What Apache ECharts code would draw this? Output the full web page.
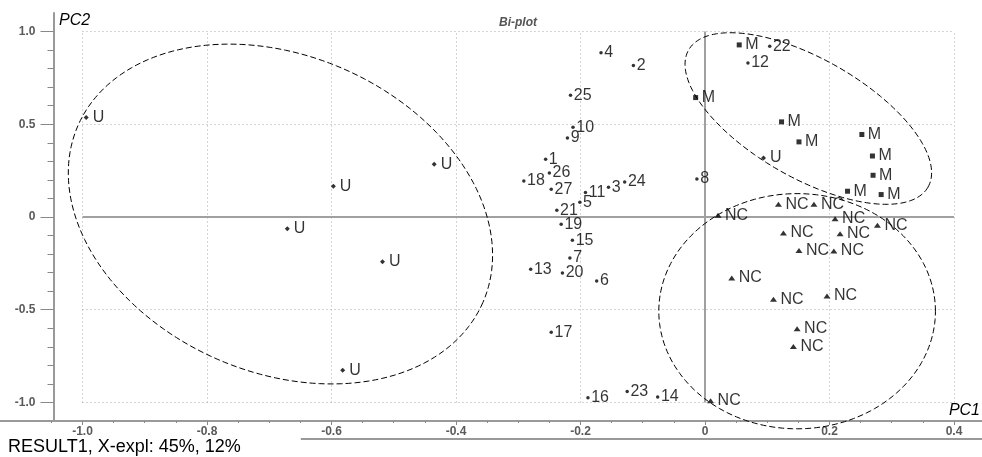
<!DOCTYPE html>
<html>
<head>
<meta charset="utf-8">
<script src="https://cdn.jsdelivr.net/npm/echarts@6/dist/echarts.min.js"></script>
<style>
html, body { margin: 0; padding: 0; background: #fff; }
#biplot { width: 982px; height: 457px; }
</style>
</head>
<body>
<div id="biplot"></div>
<script>
// scores, grouped by class (PC1, PC2)
const uX = [-0.994, -0.597, -0.435, -0.671, -0.518, -0.582, 0.094];
const uY = [0.536, 0.166, 0.284, -0.063, -0.241, -0.826, 0.318];
const mX = [0.055, -0.015, 0.123, 0.151, 0.252, 0.269, 0.270, 0.229, 0.283];
const mY = [0.928, 0.644, 0.513, 0.405, 0.445, 0.329, 0.225, 0.139, 0.121];
const ncX = [0.118, 0.175, 0.021, 0.209, 0.277, 0.126, 0.217, 0.151, 0.207, 0.043, 0.110, 0.196, 0.148, 0.142, 0.009];
const ncY = [0.069, 0.069, 0.009, -0.009, -0.045, -0.086, -0.090, -0.180, -0.183, -0.329, -0.444, -0.426, -0.602, -0.698, -0.991];

// loadings of the variables 1..27
const varIds = ['1', '2', '3', '4', '5', '6', '7', '8', '9', '10', '11', '12', '13', '14',
	'15', '16', '17', '18', '19', '20', '21', '22', '23', '24', '25', '26', '27'];
const varX = [-0.256, -0.115, -0.155, -0.167, -0.201, -0.174, -0.217, -0.013, -0.221, -0.212,
	-0.192, 0.069, -0.280, -0.076, -0.213, -0.188, -0.247, -0.291, -0.231, -0.229,
	-0.238, 0.104, -0.125, -0.129, -0.216, -0.250, -0.247];
const varY = [0.311, 0.817, 0.160, 0.885, 0.079, -0.345, -0.221, 0.205, 0.426, 0.484,
	0.132, 0.831, -0.282, -0.971, -0.126, -0.975, -0.621, 0.194, -0.039, -0.302,
	0.036, 0.921, -0.941, 0.189, 0.657, 0.237, 0.149];

// group ellipses: centre and two conjugate half-axes, in data units
const ellCX = [-0.682, 0.166, 0.148];
const ellCY = [0.016, 0.531, -0.508];
const ellUX = [0.3253, 0.1923, 0.2222];
const ellUY = [-0.4765, -0.3697, 0];
const ellVX = [-0.1016, -0.0474, 0];
const ellVY = [-0.7825, -0.2781, 0.6341];

// ticks
const xMajorTicks = [-1.0, -0.8, -0.6, -0.4, -0.2, 0, 0.2, 0.4];
const yMajorTicks = [-1.0, -0.5, 0, 0.5, 1.0];
const xMinorTicks = [];
for (let i = -21; i <= 8; i++) xMinorTicks.push(i * 0.05);
const yMinorTicks = [];
for (let i = -10; i <= 10; i++) yMinorTicks.push(i * 0.1);

const X_MIN = -1.1325, X_MAX = 0.445;
const Y_MIN = -1.1, Y_MAX = 1.1;
const GRID_LO = -1.0, GRID_HI_X = 0.4, GRID_HI_Y = 1.0;

const AXIS_GREY = "#999";
const FONT = "'Liberation Sans', Arial, sans-serif";

function tickText(v) {
	return Math.abs(v) < 1e-9 ? "0" : v.toFixed(1);
}

function groupSeries(name, xs, ys, symbol, size, labels, dist) {
	return {
		name: name,
		type: "scatter",
		symbol: symbol,
		symbolSize: size,
		itemStyle: { color: "#000" },
		data: xs.map((x, i) => ({ value: [x, ys[i]], name: labels ? labels[i] : name })),
		label: {
			show: true,
			position: "right",
			distance: dist,
			formatter: "{b}",
			color: "#000",
			fontSize: 16,
			fontFamily: FONT,
		},
		emphasis: { disabled: true },
		silent: true,
		z: 5,
	};
}

function biplotChart() {
	let dom = document.getElementById("biplot");
	let myChart = echarts.init(dom, null, { renderer: "canvas" });

	// dotted grid, without the zero lines
	let gridLines = [];
	xMajorTicks.filter((v) => v !== 0).forEach((v) => gridLines.push({ coords: [[v, GRID_LO], [v, GRID_HI_Y]] }));
	yMajorTicks.filter((v) => v !== 0).forEach((v) => gridLines.push({ coords: [[GRID_LO, v], [GRID_HI_X, v]] }));
	let zeroLines = [
		{ coords: [[GRID_LO, 0], [GRID_HI_X, 0]] },
		{ coords: [[0, GRID_LO], [0, GRID_HI_Y]] },
	];

	let axisCommon = { type: "value", splitLine: { show: false } };
	let tickLabel = { fontSize: 12, fontWeight: "bold", color: "#5a5a5a" };

	let option = {
		animation: false,
		textStyle: { fontFamily: FONT },
		title: [
			{ text: "Bi-plot", left: 499, top: 17, padding: 0,
				textStyle: { fontSize: 12, fontStyle: "italic", fontWeight: "bold", color: "#555" } },
			{ text: "PC2", left: 59, top: 13, padding: 0,
				textStyle: { fontSize: 16, fontStyle: "italic", fontWeight: "normal", color: "#000" } },
			{ text: "PC1", right: 2, top: 403, padding: 0,
				textStyle: { fontSize: 16, fontStyle: "italic", fontWeight: "normal", color: "#000" } },
			{ text: "RESULT1, X-expl: 45%, 12%", left: 0, top: 436, padding: [2, 60, 2, 8],
				backgroundColor: "#fff",
				textStyle: { fontSize: 18, fontWeight: "normal", color: "#000" } },
		],
		grid: { left: 0, right: 0, top: 13, bottom: 36, containLabel: false, outerBoundsMode: "none" },
		xAxis: [
			Object.assign({}, axisCommon, {
				min: X_MIN, max: X_MAX, position: "bottom",
				axisLine: { show: true, onZero: false, lineStyle: { color: AXIS_GREY, width: 2 } },
				axisTick: { show: true, customValues: xMinorTicks, length: 2, lineStyle: { color: "#888" } },
				axisLabel: { show: false },
			}),
			Object.assign({}, axisCommon, {
				min: X_MIN, max: X_MAX, position: "bottom",
				axisLine: { show: false, onZero: false },
				axisTick: { show: true, customValues: xMajorTicks, length: 4, lineStyle: { color: "#888" } },
				axisLabel: Object.assign({ show: true, customValues: xMajorTicks, formatter: tickText, margin: 5 }, tickLabel),
			}),
			Object.assign({}, axisCommon, {
				min: X_MIN, max: X_MAX, position: "bottom", offset: 18,
				axisLine: { show: true, onZero: false, lineStyle: { color: AXIS_GREY, width: 2 } },
				axisTick: { show: false },
				axisLabel: { show: false },
			}),
		],
		yAxis: [
			Object.assign({}, axisCommon, {
				min: Y_MIN, max: Y_MAX, position: "left", offset: -53.5,
				axisLine: { show: true, onZero: false, lineStyle: { color: AXIS_GREY, width: 2 } },
				axisTick: { show: true, customValues: yMinorTicks, length: 6, lineStyle: { color: "#888" } },
				axisLabel: { show: false },
			}),
			Object.assign({}, axisCommon, {
				min: Y_MIN, max: Y_MAX, position: "left", offset: -53.5,
				axisLine: { show: false, onZero: false },
				axisTick: { show: true, customValues: yMajorTicks, length: 13, lineStyle: { color: "#888" } },
				axisLabel: Object.assign({ show: true, customValues: yMajorTicks, formatter: tickText, margin: 18 }, tickLabel),
			}),
		],
		series: [
			{
				type: "lines",
				coordinateSystem: "cartesian2d",
				data: gridLines,
				lineStyle: { color: "#aaa", width: 1, type: [1, 3], opacity: 1 },
				silent: true,
				z: 1,
			},
			{
				type: "lines",
				coordinateSystem: "cartesian2d",
				data: zeroLines,
				lineStyle: { color: "#a0a0a0", width: 2, type: "solid", opacity: 1 },
				silent: true,
				z: 2,
			},
			{
				type: "custom",
				data: ellCX.map((x, i) => [x, ellCY[i]]),
				renderItem: function (params, api) {
					let i = params.dataIndex;
					let pts = [];
					for (let k = 0; k <= 180; k++) {
						let t = (2 * Math.PI * k) / 180;
						pts.push(api.coord([
							ellCX[i] + Math.cos(t) * ellUX[i] + Math.sin(t) * ellVX[i],
							ellCY[i] + Math.cos(t) * ellUY[i] + Math.sin(t) * ellVY[i],
						]));
					}
					return {
						type: "polyline",
						shape: { points: pts },
						style: { stroke: "#000", fill: null, lineWidth: 1, lineDash: [6, 3] },
					};
				},
				silent: true,
				z: 3,
			},
			groupSeries("vars", varX, varY, "circle", 3.5, varIds, 1.5),
			groupSeries("U", uX, uY, "diamond", [5, 5], null, 4),
			groupSeries("M", mX, mY, "rect", 5, null, 3.5),
			groupSeries("NC", ncX, ncY, "triangle", [7, 5], null, 3.5),
		],
	};

	myChart.setOption(option);
	window.addEventListener("resize", myChart.resize);
}

(function init() {
	biplotChart();
})();
</script>
</body>
</html>
